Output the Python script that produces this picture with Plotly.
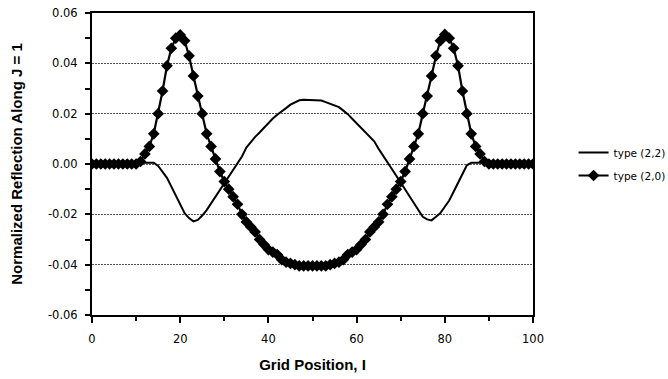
import plotly.graph_objects as go

# Grid positions along J = 1
grid_i = list(range(0, 101))

# Normalized reflection, type (2,2) boundary
refl_22 = [
    0, 0, 0, 0, 0, 0, 0, 0, 0, 0, 0,
    0.0005, 0.0006, 0.0006, 0.0005, -0.0008, -0.003, -0.0055, -0.009, -0.0125, -0.016,
    -0.0195, -0.0215, -0.0228, -0.0222, -0.0205, -0.0183, -0.0157, -0.013, -0.0103, -0.0077,
    -0.005, -0.0025, 0.0, 0.003, 0.0065, 0.0088, 0.0108, 0.0125, 0.0145, 0.0163,
    0.0181, 0.0196, 0.0208, 0.0222, 0.0236, 0.0246, 0.0253, 0.0255, 0.0255, 0.0255,
    0.0255, 0.0252, 0.0246, 0.0240, 0.0234, 0.0226, 0.0212, 0.0198, 0.0180, 0.0162,
    0.0146, 0.0130, 0.0112, 0.0090, 0.0060, 0.0035, 0.0008, -0.002, -0.0047, -0.0075,
    -0.0103, -0.013, -0.0158, -0.0185, -0.021, -0.022, -0.0224, -0.021, -0.0195, -0.017,
    -0.0145, -0.011, -0.0075, -0.004, -0.0005, 0.0005, 0.0006, 0.0006, 0.0005,
    0, 0, 0, 0, 0, 0, 0, 0, 0, 0, 0,
]

# Normalized reflection, type (2,0) boundary
refl_20 = [
    0, 0, 0, 0, 0, 0, 0, 0, 0, 0, 0,
    0.001, 0.004, 0.007, 0.012, 0.020, 0.029, 0.039, 0.046, 0.050, 0.0513,
    0.049, 0.043, 0.035, 0.027, 0.020, 0.012, 0.007, 0.002, -0.003, -0.007,
    -0.010, -0.013, -0.016, -0.020, -0.023, -0.025, -0.027, -0.030, -0.032, -0.034,
    -0.035, -0.036, -0.038, -0.039, -0.0395, -0.040, -0.0405, -0.0405, -0.0405, -0.0405,
    -0.0405, -0.0405, -0.0405, -0.040, -0.0395, -0.039, -0.038, -0.036, -0.035, -0.034,
    -0.032, -0.030, -0.027, -0.025, -0.023, -0.020, -0.016, -0.013, -0.010, -0.007,
    -0.003, 0.002, 0.007, 0.012, 0.020, 0.027, 0.035, 0.043, 0.049, 0.0515,
    0.050, 0.046, 0.039, 0.029, 0.020, 0.012, 0.007, 0.004, 0.001,
    0, 0, 0, 0, 0, 0, 0, 0, 0, 0, 0,
]

series_names = ["type (2,2)", "type (2,0)"]

x_tick_vals = [0, 20, 40, 60, 80, 100]
x_tick_text = ["0", "20", "40", "60", "80", "100"]
y_tick_vals = [0.06, 0.04, 0.02, 0.0, -0.02, -0.04, -0.06]
y_tick_text = ["0.06", "0.04", "0.02", "0.00", "-0.02", "-0.04", "-0.06"]

TITLE_FONT = "Arial, Liberation Sans, Helvetica, sans-serif"
LABEL_FONT = "DejaVu Sans, Verdana, sans-serif"

fig = go.Figure()
fig.add_trace(go.Scatter(
    x=grid_i, y=refl_22, name=series_names[0], mode="lines",
    legendgroup="t22",
    line=dict(color="black", width=2),
))
fig.add_trace(go.Scatter(
    x=grid_i, y=refl_20, name=series_names[1], mode="lines+markers",
    legendgroup="t20",
    line=dict(color="black", width=2.2),
    marker=dict(symbol="diamond", size=9, color="black"),
))

fig.update_layout(
    width=668, height=379,
    margin=dict(l=92, r=135, t=13, b=64, autoexpand=False),
    paper_bgcolor="white", plot_bgcolor="white",
    font=dict(family=LABEL_FONT, size=11, color="black"),
    legend=dict(
        x=1.092, y=0.5, xanchor="left", yanchor="middle",
        font=dict(family=LABEL_FONT, size=10.5, color="black"),
        bgcolor="rgba(0,0,0,0)", tracegroupgap=4,
    ),
)

fig.update_xaxes(
    range=[0, 100], tickvals=x_tick_vals, ticktext=x_tick_text,
    ticks="outside", ticklen=6, tickwidth=1.5, tickcolor="black",
    minor=dict(ticks="outside", dtick=10, tick0=0, ticklen=4, tickwidth=1.5, tickcolor="black"),
    showline=True, linewidth=2, linecolor="black", mirror=True,
    showgrid=False, zeroline=False, automargin=False,
    tickfont=dict(family=LABEL_FONT, size=11.5), ticklabelstandoff=6,
    title=dict(text="<b>Grid Position, I</b>", font=dict(family=TITLE_FONT, size=15), standoff=15),
)
fig.update_yaxes(
    range=[-0.06, 0.06], tickvals=y_tick_vals, ticktext=y_tick_text,
    ticks="outside", ticklen=5, tickwidth=1.5, tickcolor="black",
    minor=dict(ticks="outside", dtick=0.01, tick0=0, ticklen=5, tickwidth=1.5, tickcolor="black"),
    showline=True, linewidth=2, linecolor="black", mirror=True,
    showgrid=True, gridcolor="#555555", gridwidth=1, griddash="2px,1px",
    zeroline=False, automargin=False,
    tickfont=dict(family=LABEL_FONT, size=11.5), ticklabelstandoff=5,
    title=dict(text="<b>Normalized Reflection Along J = 1</b>", font=dict(family=TITLE_FONT, size=15), standoff=22),
)

fig.write_html("out.html")
